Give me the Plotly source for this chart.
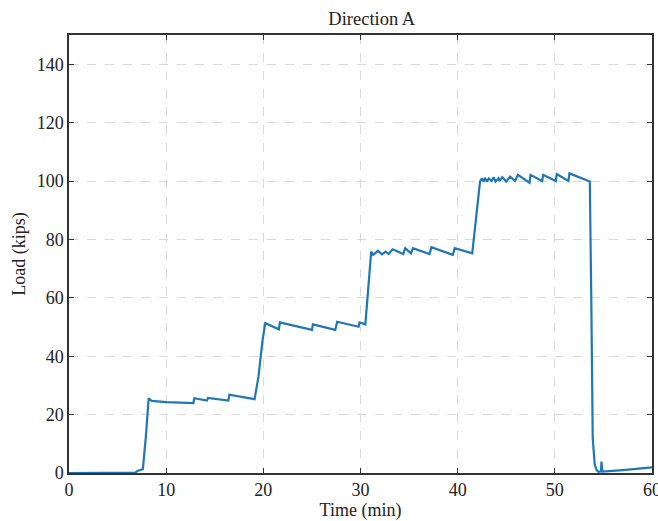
import plotly.graph_objects as go

# Time (min) and Load (kips)
time_min = [0.0, 3.0, 6.8, 7.1, 7.6, 7.9, 8.2, 8.5, 10.0, 12.8,
            12.9, 14.2, 14.3, 16.4, 16.5, 19.1, 19.5, 19.9, 20.2, 21.6,
            21.7, 25.0, 25.1, 27.4, 27.6, 29.8, 29.9, 30.5, 30.8, 31.1,
            31.3, 31.8, 32.2, 32.6, 32.9, 33.3, 34.4, 34.6, 35.2, 35.4,
            37.1, 37.3, 39.5, 39.7, 41.5, 41.9, 42.3, 42.5, 42.65, 42.8,
            43.0, 43.2, 43.5, 43.7, 43.9, 44.2, 44.3, 44.6, 45.0, 45.4,
            45.9, 46.2, 47.4, 47.5, 48.7, 48.8, 50.1, 50.2, 51.4, 51.5,
            53.6, 53.75, 53.9, 54.1, 54.3, 54.5, 54.75, 54.8, 54.9, 57.0, 60.0]
load_kips = [0.0, 0.0, 0.1, 0.8, 1.3, 12.0, 25.6, 24.7, 24.3, 23.9,
             25.6, 24.8, 25.7, 24.8, 26.8, 25.3, 33.0, 45.0, 51.3, 49.2,
             51.6, 49.0, 50.9, 49.0, 51.8, 50.1, 51.6, 50.9, 63.0, 75.8,
             74.7, 76.1, 74.9, 75.8, 75.0, 76.6, 75.0, 77.0, 75.2, 77.0,
             75.0, 77.3, 74.7, 77.0, 75.2, 88.0, 99.8, 100.9, 99.8, 101.1,
             99.8, 100.9, 100.0, 101.3, 99.8, 100.9, 100.0, 101.3, 99.8, 101.5,
             100.0, 102.1, 99.4, 102.1, 100.0, 102.1, 100.0, 102.4, 100.0, 102.6,
             99.8, 60.0, 12.0, 3.0, 1.0, 0.4, 0.6, 3.9, 0.5, 1.0, 1.9]

x_ticks = [0, 10, 20, 30, 40, 50, 60]
y_ticks = [0, 20, 40, 60, 80, 100, 120, 140]

fig = go.Figure()
fig.add_trace(go.Scatter(x=time_min, y=load_kips, mode="lines",
                         line=dict(color="#1f77b4", width=2.2)))

font = dict(family="Liberation Serif, Times New Roman, serif", size=18, color="#222")
axis_common = dict(
    showline=True, linecolor="#333", linewidth=1.5, mirror="ticks",
    ticks="inside", ticklen=5, tickwidth=1.2, tickcolor="#333",
    showgrid=True, gridcolor="#d9d9d9", griddash="dash", gridwidth=1,
    zeroline=False, tickfont=font, ticklabeloverflow="allow", automargin=False,
)
fig.update_layout(
    width=658, height=521,
    margin=dict(l=69, r=6, t=35, b=48),
    paper_bgcolor="white", plot_bgcolor="white",
    showlegend=False,
    title=dict(text="Direction A", x=0.565, xanchor="center", y=0.977, yanchor="top",
               font=dict(family=font["family"], size=18.5, color="#222")),
    xaxis=dict(range=[0, 60], tickvals=x_ticks, title=dict(text="Time (min)", font=font, standoff=2),
               **axis_common),
    yaxis=dict(range=[0, 150], tickvals=y_ticks, title=dict(text="Load (kips)", font=font, standoff=6),
               **axis_common),
)
fig.write_html("out.html")
